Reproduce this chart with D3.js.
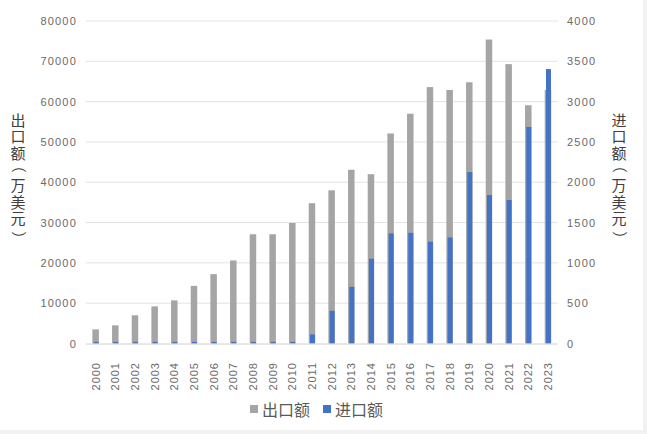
<!DOCTYPE html>
<html><head><meta charset="utf-8">
<script src="https://cdn.jsdelivr.net/npm/d3@7"></script>
<style>
html,body{margin:0;padding:0;background:#f2f2f2;}
svg{display:block;background:#fff;}
text{font-family:"Liberation Sans Narrow","Liberation Sans",Arial,sans-serif;}
.cjk{font-family:"Noto Sans CJK SC","Noto Sans",sans-serif;}
</style></head>
<body>
<svg id="chart" width="643" height="430"></svg>
<script>
const years = ["2000","2001","2002","2003","2004","2005","2006","2007","2008","2009","2010","2011","2012","2013","2014","2015","2016","2017","2018","2019","2020","2021","2022","2023"];
const exportValues = [3500,4500,7000,9200,10700,14300,17200,20600,27100,27100,29900,34800,38000,43100,42000,52100,57000,63600,62900,64800,75400,69300,59100,62900];
const importValues = [20,20,20,20,20,20,20,20,20,20,20,112,405,703,1051,1365,1373,1262,1315,2126,1841,1779,2685,3404];
const leftTicks = [0,10000,20000,30000,40000,50000,60000,70000,80000];
const rightTicks = [0,500,1000,1500,2000,2500,3000,3500,4000];
const leftTitle = "出口额（万美元）";
const rightTitle = "进口额（万美元）";
const legendItems = [{name:"出口额",color:"#a5a5a5"},{name:"进口额",color:"#4472c4"}];

const svg = d3.select("#chart");
const plot = {left:85.8, right:557.8, top:21, bottom:343.5};

const x = d3.scaleBand().domain(years).range([plot.left, plot.right]);
const yL = d3.scaleLinear().domain([0,80000]).range([plot.bottom, plot.top]);
const yR = d3.scaleLinear().domain([0,4000]).range([plot.bottom, plot.top]);

// gridlines
svg.append("g").selectAll("line").data(leftTicks.slice(1)).join("line")
  .attr("x1", plot.left).attr("x2", plot.right)
  .attr("y1", d=>yL(d)).attr("y2", d=>yL(d))
  .attr("stroke", "#e3e3e3").attr("stroke-width", 1);

// left axis labels
svg.append("g").selectAll("text").data(leftTicks).join("text")
  .attr("x", 77).attr("y", d=>yL(d)+4)
  .attr("text-anchor","end").attr("font-size",11).attr("letter-spacing",1.2)
  .attr("fill","#6a6a6a").text(d=>d);

// right axis labels
svg.append("g").selectAll("text").data(rightTicks).join("text")
  .attr("x", 567).attr("y", d=>yR(d)+4)
  .attr("text-anchor","start").attr("font-size",11).attr("letter-spacing",1.2)
  .attr("fill","#6a6a6a").text(d=>d);

// grey bars
const gw = 6.5, bw = 5;
svg.append("g").selectAll("rect").data(years).join("rect")
  .attr("x", (d)=>x(d)+x.bandwidth()/2-gw/2)
  .attr("y", (d,i)=>yL(exportValues[i]))
  .attr("width", gw)
  .attr("height", (d,i)=>plot.bottom-yL(exportValues[i]))
  .attr("fill", legendItems[0].color);

// blue bars
svg.append("g").selectAll("rect").data(years).join("rect")
  .attr("x", (d)=>x(d)+x.bandwidth()/2-bw/2+0.5)
  .attr("y", (d,i)=>yR(importValues[i]))
  .attr("width", bw)
  .attr("height", (d,i)=>plot.bottom-yR(importValues[i]))
  .attr("fill", legendItems[1].color);

// baseline
svg.append("line").attr("x1",plot.left).attr("x2",plot.right)
  .attr("y1",plot.bottom+0.5).attr("y2",plot.bottom+0.5)
  .attr("stroke","#d0d0d0");

// x labels
svg.append("g").selectAll("text").data(years).join("text")
  .attr("transform", d=>`translate(${x(d)+x.bandwidth()/2+4},362) rotate(-90)`)
  .attr("text-anchor","end").attr("font-size",11).attr("letter-spacing",1)
  .attr("fill","#6a6a6a").text(d=>d);

// axis titles: stacked characters, parentheses turned into vertical forms
function vtitle(str, cx){
  const fs = 15, step = 16.4, top = 120;
  const t = svg.append("text").attr("class","cjk")
    .attr("font-size",fs).attr("fill","#404040");
  Array.from(str).forEach((ch,i)=>{
    const cy = top + i*step;
    const sp = t.append("tspan").text(ch);
    if (ch === "（") {
      sp.attr("x", cx-5.4).attr("y", cy-11.4).attr("rotate", 90);
    } else if (ch === "）") {
      sp.attr("x", cx-5.4).attr("y", cy-3.6).attr("rotate", 90);
    } else {
      sp.attr("x", cx-fs/2).attr("y", cy+5.8);
    }
  });
}
vtitle(leftTitle, 18);
vtitle(rightTitle, 619);

// legend
const lg = svg.append("g");
let lx = 250;
legendItems.forEach((it)=>{
  lg.append("rect").attr("x",lx).attr("y",405).attr("width",8).attr("height",8).attr("fill",it.color);
  lg.append("text").attr("class","cjk").attr("x",lx+12).attr("y",416)
    .attr("font-size",16).attr("fill","#595959").text(it.name);
  lx += 73;
});
</script>
</body></html>
